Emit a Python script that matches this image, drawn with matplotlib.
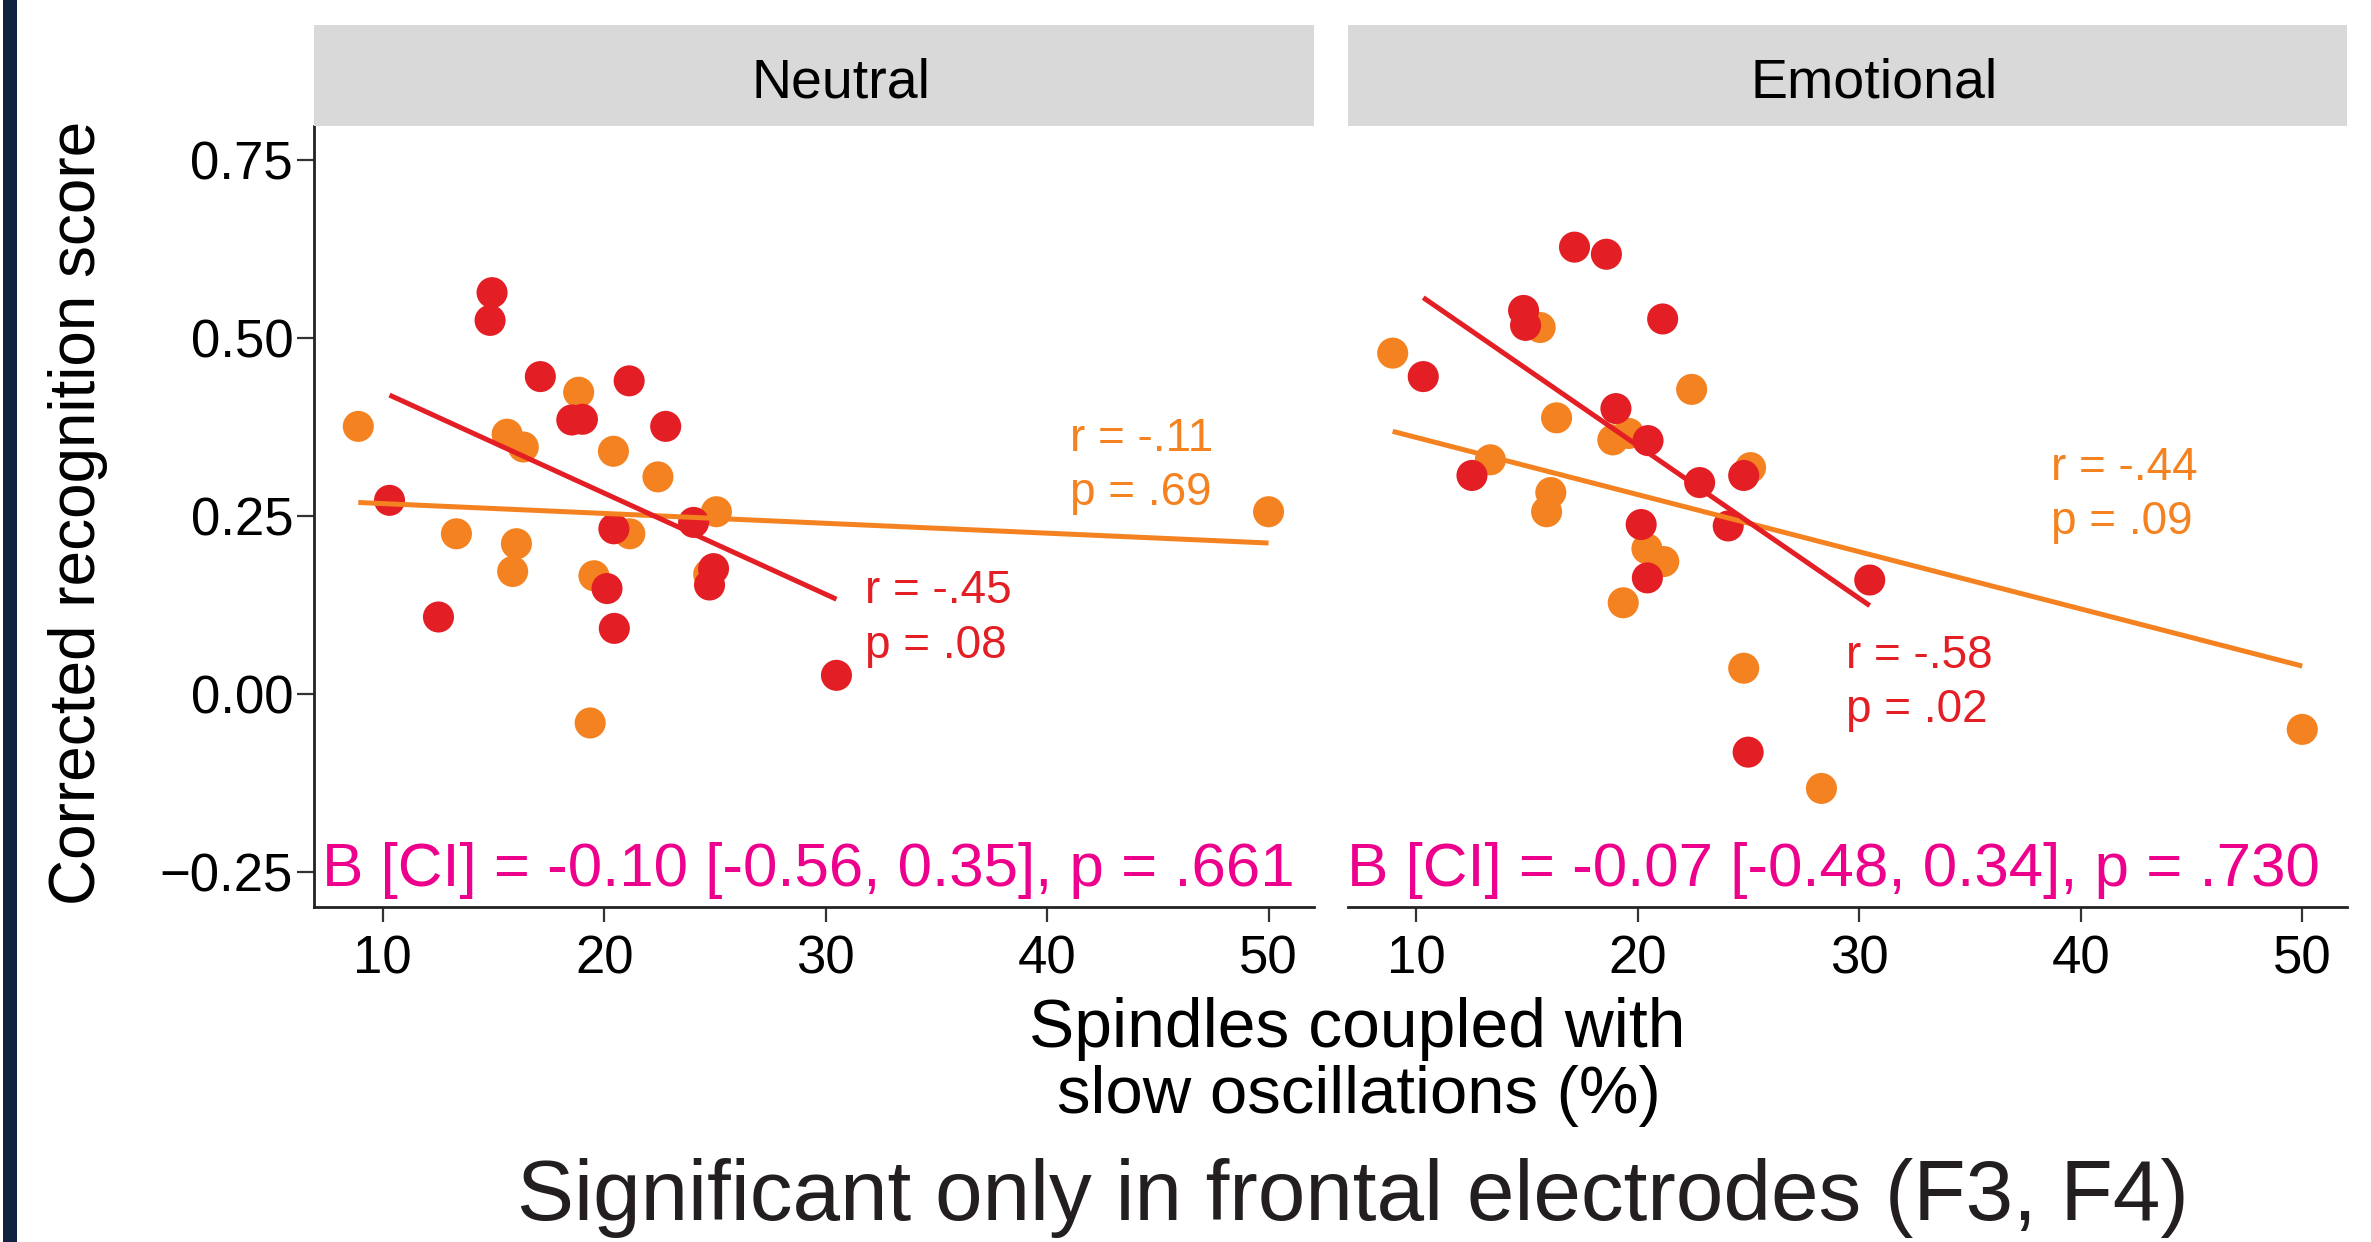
import matplotlib
matplotlib.use('Agg')
import matplotlib.pyplot as plt
from matplotlib.patches import Rectangle

plt.rcParams['font.family'] = ['Liberation Sans', 'DejaVu Sans']

RED = '#E31E24'
ORANGE = '#F58220'
MAGENTA = '#EC008C'

# data
panels = ['Neutral', 'Emotional']

neutral_red_x = [14.94, 14.85, 17.12, 21.13, 18.54, 19.02, 22.78, 10.31, 24.04, 20.44, 24.94, 24.76, 20.13, 12.52, 20.46, 30.49]
neutral_red_y = [0.564, 0.525, 0.446, 0.440, 0.385, 0.386, 0.376, 0.272, 0.241, 0.232, 0.176, 0.153, 0.148, 0.108, 0.092, 0.026]
neutral_orange_x = [8.90, 18.85, 15.62, 16.35, 20.42, 22.43, 25.07, 13.33, 21.16, 16.04, 15.87, 19.54, 24.72, 19.37, 50.0]
neutral_orange_y = [0.376, 0.424, 0.365, 0.347, 0.341, 0.305, 0.256, 0.225, 0.225, 0.211, 0.172, 0.166, 0.168, -0.041, 0.256]

emotional_red_x = [17.15, 18.59, 14.85, 14.94, 21.13, 10.32, 19.02, 20.47, 12.52, 22.80, 24.79, 20.16, 24.09, 20.44, 30.48, 24.99]
emotional_red_y = [0.628, 0.618, 0.539, 0.518, 0.527, 0.446, 0.401, 0.356, 0.307, 0.297, 0.307, 0.238, 0.236, 0.163, 0.160, -0.082]
emotional_orange_x = [8.94, 15.60, 22.44, 16.34, 18.88, 19.60, 13.35, 25.10, 16.08, 15.89, 20.42, 21.18, 19.35, 24.79, 28.30, 50.01]
emotional_orange_y = [0.479, 0.515, 0.428, 0.388, 0.357, 0.366, 0.329, 0.318, 0.283, 0.256, 0.204, 0.186, 0.128, 0.036, -0.133, -0.050]

# fitted lines: y at min(x) and max(x) of each group
neutral_red_fit = [0.420, 0.133]
neutral_orange_fit = [0.269, 0.212]
emotional_red_fit = [0.557, 0.124]
emotional_orange_fit = [0.369, 0.039]

neutral_red_stats = ['r = -.45', 'p = .08']
neutral_orange_stats = ['r = -.11', 'p = .69']
emotional_red_stats = ['r = -.58', 'p = .02']
emotional_orange_stats = ['r = -.44', 'p = .09']

model_stats = ['B [CI] = -0.10 [-0.56, 0.35], p = .661',
               'B [CI] = -0.07 [-0.48, 0.34], p = .730']

x_ticks = [10, 20, 30, 40, 50]
y_ticks = [-0.25, 0.0, 0.25, 0.50, 0.75]
y_tick_labels = ['\u22120.25', '0.00', '0.25', '0.50', '0.75']

# text anchor positions (data coords): (x, y line1, y line2)
neutral_red_pos = (31.80, 0.128, 0.051)
neutral_orange_pos = (41.04, 0.341, 0.265)
emotional_red_pos = (29.43, 0.037, -0.039)
emotional_orange_pos = (38.67, 0.301, 0.224)
model_pos = [(7.25, -0.270), (6.86, -0.270)]

W, H = 2371, 1242
fig = plt.figure(figsize=(W / 100, H / 100), dpi=100)
fig.patches.append(Rectangle((3 / W, 0), 13.5 / W, 1, transform=fig.transFigure,
                             facecolor='#0f2340', edgecolor='none'))

data = [
    (neutral_red_x, neutral_red_y, neutral_orange_x, neutral_orange_y,
     neutral_red_fit, neutral_orange_fit, neutral_red_stats, neutral_orange_stats,
     neutral_red_pos, neutral_orange_pos),
    (emotional_red_x, emotional_red_y, emotional_orange_x, emotional_orange_y,
     emotional_red_fit, emotional_orange_fit, emotional_red_stats, emotional_orange_stats,
     emotional_red_pos, emotional_orange_pos),
]

lefts = [314 / W, 1347.5 / W]
width = 999.5 / W
bottom = 1 - 906.5 / H
height = (906.5 - 125.5) / H
strip_h = 100.5 / H

for i, name in enumerate(panels):
    rx, ry, ox, oy, rfit, ofit, rst, ost, rpos, opos = data[i]
    ax = fig.add_axes([lefts[i], bottom, width, height])
    ax.scatter(ox, oy, s=500, color=ORANGE, edgecolors='none', zorder=2)
    ax.scatter(rx, ry, s=500, color=RED, edgecolors='none', zorder=3)
    ax.plot([min(ox), max(ox)], ofit, color=ORANGE, lw=3.6, zorder=4, solid_capstyle='butt')
    ax.plot([min(rx), max(rx)], rfit, color=RED, lw=3.6, zorder=5, solid_capstyle='butt')

    for st, pos, col in [(rst, rpos, RED), (ost, opos, ORANGE)]:
        ax.text(pos[0], pos[1], st[0], color=col, fontsize=33, ha='left', va='baseline')
        ax.text(pos[0], pos[2], st[1], color=col, fontsize=33, ha='left', va='baseline')

    ax.text(model_pos[i][0], model_pos[i][1], model_stats[i], color=MAGENTA,
            fontsize=44.6, ha='left', va='baseline', clip_on=False, zorder=6)

    ax.set_xlim(6.9, 52.03)
    ax.set_ylim(-0.299, 0.799)
    ax.set_xticks(x_ticks)
    ax.set_xticklabels([str(t) for t in x_ticks])
    for s in ['top', 'right']:
        ax.spines[s].set_visible(False)
    for s in ['left', 'bottom']:
        ax.spines[s].set_color('#222222')
        ax.spines[s].set_linewidth(2)
    ax.tick_params(axis='x', length=11, width=1.6, color='#333333', pad=9, labelsize=38)
    if i == 0:
        ax.set_yticks(y_ticks)
        ax.set_yticklabels(y_tick_labels)
        ax.tick_params(axis='y', length=12, width=1.6, color='#333333', pad=3, labelsize=38)
    else:
        ax.set_yticks([])
        ax.spines['left'].set_visible(False)

    sax = fig.add_axes([lefts[i], bottom + height, width, strip_h])
    sax.set_facecolor('#D9D9D9')
    sax.set_xticks([])
    sax.set_yticks([])
    for s in sax.spines.values():
        s.set_visible(False)
    sax.text(0.527, 0.48, name, transform=sax.transAxes, fontsize=40,
             ha='center', va='center_baseline')

fig.text(78 / W, 1 - 513 / H, 'Corrected recognition score', rotation=90,
         fontsize=46, ha='center', va='center')
fig.text(1357 / W, 1 - 1046.7 / H, 'Spindles coupled with', fontsize=48.8,
         ha='center', va='baseline')
fig.text(1359 / W, 1 - 1113.3 / H, 'slow oscillations (%)', fontsize=48.3,
         ha='center', va='baseline')
fig.text(1353 / W, 1 - 1220 / H, 'Significant only in frontal electrodes (F3, F4)',
         fontsize=61.6, ha='center', va='baseline', color='#231f20')

fig.savefig('out.png', dpi=100)
